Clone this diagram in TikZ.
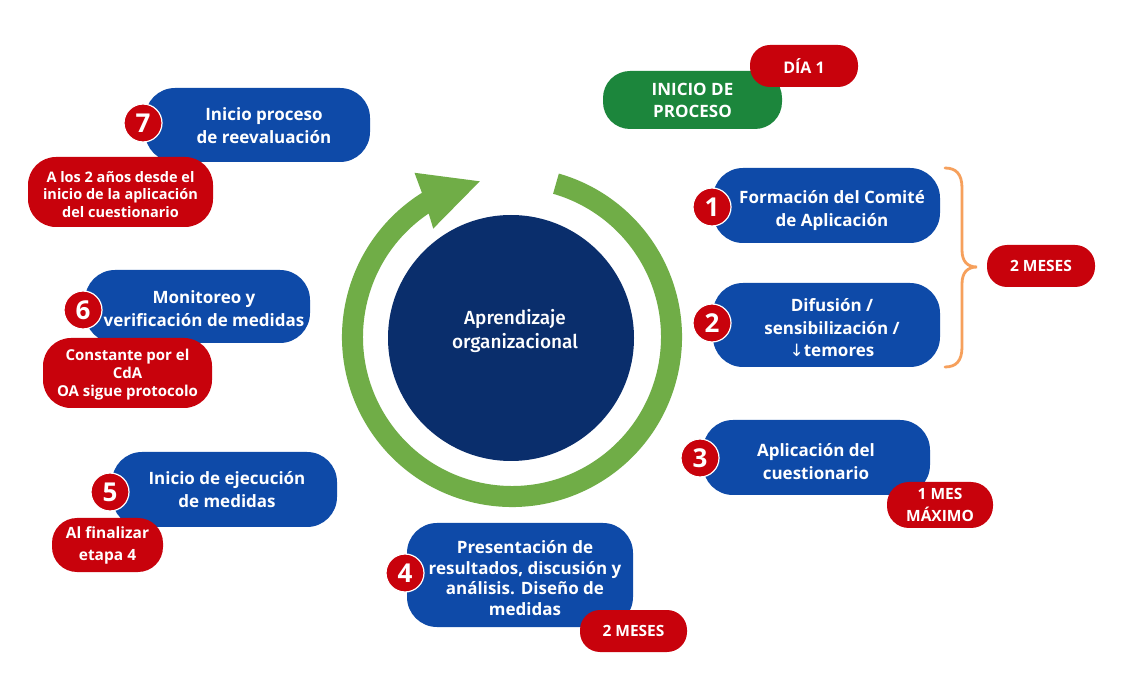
\documentclass[tikz,border=0pt]{standalone}
\usepackage{fontspec}
\setmainfont{Open Sans}
\newfontfamily\dejavu{DejaVu Sans}
\newfontfamily\corefont{Fira Sans Medium}
\definecolor{pblue}{RGB}{14,74,168}
\definecolor{pred}{RGB}{200,2,12}
\definecolor{pgreen}{RGB}{28,134,60}
\definecolor{ringgreen}{RGB}{112,173,71}
\definecolor{navy}{RGB}{10,46,108}
\definecolor{bracecol}{RGB}{246,160,92}
\begin{document}
\begin{tikzpicture}[x=1pt,y=-1pt,
  bluepill/.style={fill=pblue, rounded corners=30pt, inner sep=0pt},
  pilltext/.style={text=white, font=\bfseries\fontsize{17}{23}\selectfont, align=center, inner sep=0pt},
  redpill/.style={fill=pred, text=white, font=\bfseries\fontsize{14.5}{17.5}\selectfont, align=center, inner sep=0pt},
  numdot/.style={circle, fill=pred, draw=white, line width=1.2pt, minimum size=38pt, inner sep=0pt, text=white, font=\bfseries\fontsize{26}{26}\selectfont}]
\useasboundingbox (0,0) rectangle (1128,684);
\fill[white] (0,0) rectangle (1128,684);

% ring arrow
\begin{scope}[shift={(512,337)}, yscale=-1]
\fill[ringgreen] (74:170) arc[start angle=74, end angle=-238, radius=170]
  -- (-239.3:191) -- (-258.3:159) -- (-234:134) -- (-236:149)
  arc[start angle=-236, end angle=74, radius=149] -- cycle;
\end{scope}

% core circle
\node[circle, fill=navy, minimum size=246pt, inner sep=0pt] (core) at (511,338) {};
\node[text=white, align=center, inner sep=0pt, font=\corefont\fontsize{19}{24}\selectfont] (coretext) at (515,331) {Aprendizaje\\organizacional};

% start pill
\node[fill=pgreen, rounded corners=27pt, minimum width=179pt, minimum height=58pt, text=white,
  align=center, inner sep=0pt, font=\bfseries\fontsize{17}{22}\selectfont] (start) at (692.5,100) {INICIO DE\\PROCESO};
\node[redpill, rounded corners=20pt, minimum width=108pt, minimum height=42pt, font=\bfseries\fontsize{16}{20}\selectfont] (dia) at (804,66) {DÍA 1};

% blue pills
\node[bluepill, minimum width=225pt, minimum height=74pt] (p7) at (257.5,125) {};
\node[pilltext] (p7t) at (264,126) {Inicio proceso\\de reevaluación};
\node[bluepill, minimum width=225pt, minimum height=73pt] (p6) at (197.5,306.5) {};
\node[pilltext] (p6t) at (204,308.5) {Monitoreo y\\verificación de medidas};
\node[bluepill, minimum width=225pt, minimum height=75pt] (p5) at (224.5,489.5) {};
\node[pilltext] (p5t) at (227,489.5) {Inicio de ejecución\\de medidas};
\node[bluepill, minimum width=226pt, minimum height=104pt] (p4) at (520,575) {};
\node[pilltext, font=\bfseries\fontsize{17}{20.5}\selectfont] (p4t) at (525,578) {Presentación de\\resultados, discusión y\\análisis. Diseño de\\medidas};
\node[bluepill, minimum width=227pt, minimum height=75pt] (p3) at (816.5,457.5) {};
\node[pilltext] (p3t) at (816,461.5) {Aplicación del\\cuestionario};
\node[bluepill, minimum width=227pt, minimum height=75pt] (p1) at (826.5,205.5) {};
\node[pilltext] (p1t) at (832,210.5) {Formación del Comité\\de Aplicación};
\node[bluepill, minimum width=227pt, minimum height=84pt] (p2) at (826.5,325) {};
\node[pilltext, font=\bfseries\fontsize{17}{22.5}\selectfont] (p2t) at (832,328) {Difusión /\\sensibilización /\\{\dejavu\mdseries ↓}temores};

% red pills
\node[redpill, rounded corners=28pt, minimum width=185pt, minimum height=70pt] (r7) at (120.5,192) {};
\node[redpill, fill=none] (r7t) at (120.5,194.5) {A los 2 años desde el\\inicio de la aplicación\\del cuestionario};
\node[redpill, rounded corners=28pt, minimum width=169pt, minimum height=70pt] (r6) at (127.5,373) {};
\node[redpill, fill=none, font=\bfseries\fontsize{15}{18}\selectfont] (r6t) at (127.5,375) {Constante por el\\CdA\\OA sigue protocolo};
\node[redpill, rounded corners=25pt, minimum width=111pt, minimum height=54pt, font=\bfseries\fontsize{15.5}{22}\selectfont] (r5) at (107.5,545) {Al finalizar\\etapa 4};
\node[redpill, rounded corners=20pt, minimum width=107pt, minimum height=42pt, font=\bfseries\fontsize{15.5}{20}\selectfont] (r4) at (633.5,631) {2 MESES};
\node[redpill, rounded corners=22pt, minimum width=106pt, minimum height=46pt, font=\bfseries\fontsize{15.5}{21.5}\selectfont] (r3) at (940,505) {1 MES\\MÁXIMO};
\node[redpill, rounded corners=20pt, minimum width=108pt, minimum height=42pt, font=\bfseries\fontsize{15.5}{20}\selectfont] (r12) at (1041,266) {2 MESES};

% number dots
\node[numdot] (n7) at (143,123) {7};
\node[numdot] (n6) at (83,310) {6};
\node[numdot] (n5) at (110,492) {5};
\node[numdot] (n4) at (405,573) {4};
\node[numdot] (n3) at (700,458) {3};
\node[numdot] (n1) at (712,207) {1};
\node[numdot] (n2) at (712,323) {2};

% brace
\coordinate (bt) at (945,168);
\coordinate (bb) at (945,367);
\coordinate (btip) at (977,267);
\draw[bracecol, line width=2.8pt, line cap=round]
  (bt) .. controls (956,168) and (962,174) .. (962,188) -- (962,250)
  .. controls (962,261) and (967,267) .. (btip)
  .. controls (967,267) and (962,273) .. (962,284) -- (962,347)
  .. controls (962,361) and (956,367) .. (bb);
\end{tikzpicture}
\end{document}
